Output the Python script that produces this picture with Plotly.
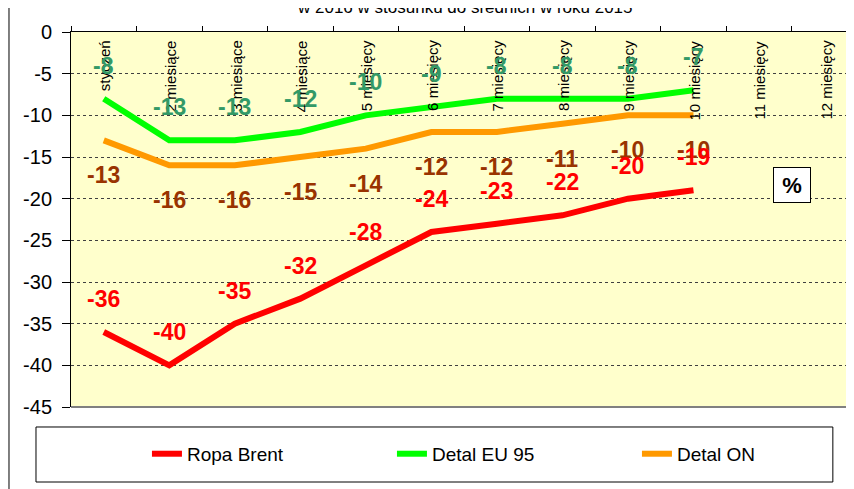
import plotly.graph_objects as go

months = ["styczeń", "2 miesiące", "3 miesiące", "4 miesiące", "5 miesięcy", "6 miesięcy",
          "7 miesięcy", "8 miesięcy", "9 miesięcy", "10 miesięcy", "11 miesięcy", "12 miesięcy"]
ropa_brent = [-36, -40, -35, -32, -28, -24, -23, -22, -20, -19]
detal_eu95 = [-8, -13, -13, -12, -10, -9, -8, -8, -8, -7]
detal_on = [-13, -16, -16, -15, -14, -12, -12, -11, -10, -10]
y_ticks = [0, -5, -10, -15, -20, -25, -30, -35, -40, -45]
title_text = "w 2016 w stosunku do średnich w roku 2015"

FONT = "Arial, Liberation Sans, sans-serif"

series = [
    ("Ropa Brent", ropa_brent, "#FF0000", "#FF0000", 33),
    ("Detal EU 95", detal_eu95, "#00FF00", "#339966", 33),
    ("Detal ON", detal_on, "#FF9900", "#993300", -35),
]

fig = go.Figure()
for name, vals, lc, tc, sh in series:
    fig.add_trace(go.Scatter(
        x=months[:len(vals)], y=vals, name=name, mode="lines",
        line=dict(color=lc, width=6, shape="linear"),
        hoverinfo="skip",
    ))

annotations = []
# category labels inside top of plot
for m in months:
    annotations.append(dict(
        x=m, y=0, xref="x", yref="y", text=m, showarrow=False,
        textangle=-90, yanchor="top", xanchor="center", yshift=-6, xshift=1,
        font=dict(family=FONT, size=15, color="#000000"),
    ))
# data labels: green, orange, red (red on top)
for idx in [1, 2, 0]:
    name, vals, lc, tc, sh = series[idx]
    for m, v in zip(months, vals):
        annotations.append(dict(
            x=m, y=v, xref="x", yref="y", text=str(v), showarrow=False,
            yshift=sh, font=dict(family=FONT, size=23, color=tc, weight="bold"),
        ))
# percent box
annotations.append(dict(
    x=0.9457, y=0.5907, xref="paper", yref="paper", text="%", showarrow=False,
    bgcolor="#FFFFFF", bordercolor="#000000", borderwidth=1, borderpad=5,
    width=26, height=24,
    font=dict(family=FONT, size=22, color="#000000", weight="bold"),
))
# title (cut off at top, as in the reference)
annotations.append(dict(
    x=0.503, y=1.0853, xref="paper", yref="paper", text=title_text, showarrow=False,
    yanchor="middle", xanchor="center", yshift=-7,
    font=dict(family=FONT, size=17, color="#000000"),
))

shapes = [
    # bottom border of plot area
    dict(type="line", xref="paper", yref="paper", x0=0, x1=1, y0=0, y1=0,
         line=dict(color="#808080", width=2)),
    # legend frame
    dict(type="rect", xref="paper", yref="paper", x0=-0.0447, x1=0.973, y0=-0.2, y1=-0.0533,
         line=dict(color="#000000", width=1), fillcolor="rgba(0,0,0,0)"),
    # outer chart frame left edge
    dict(type="line", xref="paper", yref="paper", x0=-0.0792, x1=-0.0792, y0=-0.25, y1=1.2,
         line=dict(color="#000000", width=1)),
]

fig.update_layout(
    width=854, height=489,
    margin=dict(l=63, r=8, t=24, b=90, autoexpand=False),
    paper_bgcolor="#FFFFFF",
    plot_bgcolor="#FFFFCC",
    font=dict(family=FONT, color="#000000"),
    showlegend=True,
    legend=dict(
        orientation="h", x=0.097, y=-0.125, xanchor="left", yanchor="middle",
        entrywidth=200, entrywidthmode="pixels",
        font=dict(family=FONT, size=19, color="#000000"),
        bgcolor="rgba(0,0,0,0)", borderwidth=0,
    ),
    annotations=annotations,
    shapes=shapes,
)
fig.update_xaxes(
    type="category", categoryorder="array", categoryarray=months,
    range=[-0.5, 11.45], side="top", showline=True, linecolor="#000000", linewidth=1,
    ticks="outside", tickson="boundaries", ticklen=5, tickcolor="#000000",
    showticklabels=False, showgrid=False, zeroline=False, fixedrange=True,
)
fig.update_yaxes(
    range=[-45, 0], tickvals=y_ticks, ticktext=[str(t) for t in y_ticks],
    showline=True, linecolor="#000000", linewidth=1,
    ticks="outside", ticklen=8, tickcolor="#000000", ticklabelstandoff=6,
    tickfont=dict(family=FONT, size=20, color="#000000"),
    showgrid=True, gridcolor="#404040", griddash="dot", gridwidth=1,
    zeroline=False, fixedrange=True,
)

fig.write_html("out.html")
